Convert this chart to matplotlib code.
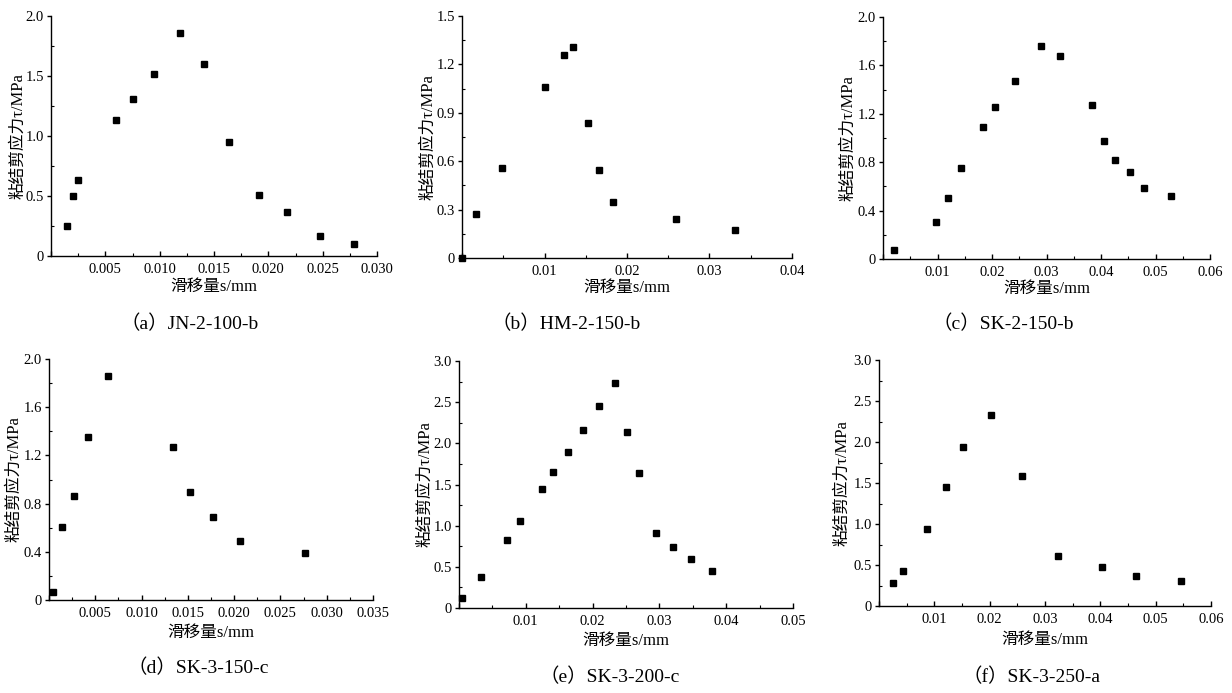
import matplotlib
matplotlib.use("Agg")
import matplotlib.pyplot as plt
from matplotlib.ticker import MultipleLocator, FuncFormatter

plt.rcParams['font.family'] = ['Liberation Serif', 'Noto Sans CJK SC', 'DejaVu Sans']

# slip s (mm) and bond shear stress tau (MPa) for each specimen
s_a = [0.0015, 0.0020, 0.00245, 0.0060, 0.00755, 0.00945, 0.01184, 0.01411, 0.01641, 0.0191, 0.02175, 0.0248, 0.0279]
t_a = [0.25, 0.50, 0.637, 1.13, 1.31, 1.52, 1.855, 1.60, 0.95, 0.51, 0.364, 0.17, 0.097]

s_b = [0.00004, 0.0017, 0.0049, 0.0100, 0.01242, 0.01351, 0.01532, 0.01665, 0.01827, 0.02593, 0.03315]
t_b = [0.0, 0.275, 0.557, 1.061, 1.258, 1.308, 0.836, 0.544, 0.350, 0.242, 0.176]

s_c = [0.00207, 0.00976, 0.01189, 0.01433, 0.01829, 0.02055, 0.02427, 0.02896, 0.0325, 0.03835,
       0.04049, 0.04262, 0.04537, 0.04793, 0.05287]
t_c = [0.077, 0.306, 0.504, 0.749, 1.088, 1.256, 1.468, 1.757, 1.675, 1.273, 0.975, 0.815, 0.715, 0.587, 0.521]

s_d = [0.00047, 0.00137, 0.00273, 0.00417, 0.00633, 0.01335, 0.01522, 0.0177, 0.02065, 0.02766]
t_d = [0.064, 0.603, 0.863, 1.35, 1.856, 1.272, 0.893, 0.689, 0.49, 0.393]

s_e = [0.00045, 0.00328, 0.00716, 0.0092, 0.01244, 0.01413, 0.01637, 0.01861, 0.021, 0.02328,
       0.02522, 0.02692, 0.0295, 0.03204, 0.03468, 0.03786]
t_e = [0.118, 0.377, 0.823, 1.054, 1.451, 1.650, 1.889, 2.165, 2.448, 2.736, 2.132, 1.634, 0.916, 0.746, 0.592, 0.446]

s_f = [0.00253, 0.00428, 0.00873, 0.01217, 0.01518, 0.02024, 0.0259, 0.03241, 0.04024, 0.04645, 0.05458]
t_f = [0.28, 0.427, 0.943, 1.455, 1.939, 2.333, 1.581, 0.614, 0.472, 0.37, 0.30]

captions = ["（a）JN-2-100-b", "（b）HM-2-150-b", "（c）SK-2-150-b",
            "（d）SK-3-150-c", "（e）SK-3-200-c", "（f）SK-3-250-a"]

W, H = 1232, 693
fig = plt.figure(figsize=(W / 100, H / 100), dpi=100)

# panel boxes in pixels: left, top, right, bottom
boxes = [(51, 16, 377, 256), (462, 16, 792, 258), (883, 17, 1210, 259),
         (49, 359, 373, 600), (459, 361, 793, 608), (879, 360, 1211, 606)]
# xmax, xstep, x decimals, ymax, ystep
scales = [(0.030, 0.005, 3, 2.0, 0.5), (0.04, 0.01, 2, 1.5, 0.3), (0.06, 0.01, 2, 2.0, 0.4),
          (0.035, 0.005, 3, 2.0, 0.4), (0.05, 0.01, 2, 3.0, 0.5), (0.06, 0.01, 2, 3.0, 0.5)]
cap_pos = [(190, 324), (566, 324), (1003, 324), (198, 668), (610, 677), (1031, 677)]
# pixel x of y-label centre, pixel y of x-label centre
ylab_x = [18, 428, 848, 14, 425, 842]
xlab_y = [287, 288, 289, 633, 641, 640]
data = [(s_a, t_a), (s_b, t_b), (s_c, t_c), (s_d, t_d), (s_e, t_e), (s_f, t_f)]


def yfmt(v, pos):
    if abs(v) < 1e-9:
        return "0"
    return "%.1f" % v


for i in range(6):
    l, t, r, b = boxes[i]
    ax = fig.add_axes([l / W, 1 - b / H, (r - l) / W, (b - t) / H])
    xs, ys = data[i]
    ax.plot(xs, ys, 's', color='black', markersize=4, clip_on=False)
    xmax, xstep, dec, ymax, ystep = scales[i]
    ax.set_xlim(0, xmax)
    ax.set_ylim(0, ymax)
    ax.xaxis.set_major_locator(MultipleLocator(xstep))
    ax.xaxis.set_minor_locator(MultipleLocator(xstep / 2))
    ax.yaxis.set_major_locator(MultipleLocator(ystep))
    ax.yaxis.set_minor_locator(MultipleLocator(ystep / 2))
    ax.xaxis.set_major_formatter(FuncFormatter(
        lambda v, pos, d=dec: "" if abs(v) < 1e-9 else "%.*f" % (d, v)))
    ax.yaxis.set_major_formatter(FuncFormatter(yfmt))
    ax.spines['top'].set_visible(False)
    ax.spines['right'].set_visible(False)
    for sp in ['left', 'bottom']:
        ax.spines[sp].set_linewidth(1.0)
    ax.tick_params(axis='x', which='major', direction='in', length=3.5, width=1.0, labelsize=10.5, pad=5)
    ax.tick_params(axis='x', which='minor', direction='in', length=2, width=0.8)
    ax.tick_params(axis='y', which='major', direction='out', length=3, width=1.0, labelsize=10.5, pad=2)
    ax.tick_params(axis='y', which='minor', direction='in', length=2, width=0.8)
    ax.set_xlabel("滑移量s/mm", fontsize=12, va='center')
    ax.set_ylabel("粘结剪应力τ/MPa", fontsize=12, va='center')
    ax.xaxis.set_label_coords(0.5, (b - xlab_y[i]) / (b - t))
    ax.yaxis.set_label_coords((ylab_x[i] - l) / (r - l), 0.5)
    cx, cy = cap_pos[i]
    fig.text(cx / W, 1 - cy / H, captions[i], ha='center', va='center', fontsize=14,
             family=['Liberation Serif', 'Noto Sans CJK SC'])

fig.savefig("out.png", dpi=100)
